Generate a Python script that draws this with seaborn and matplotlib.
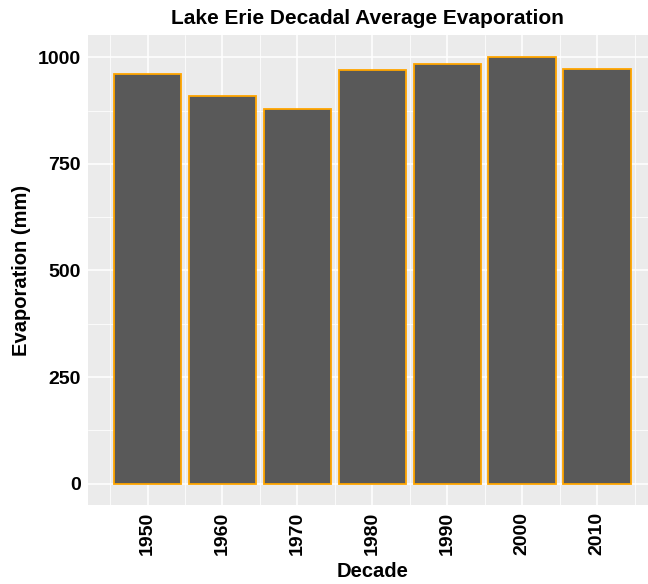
import matplotlib
matplotlib.use("Agg")
import matplotlib.pyplot as plt
import seaborn as sns
import pandas as pd
from matplotlib.ticker import FixedLocator

decades = ["1950", "1960", "1970", "1980", "1990", "2000", "2010"]
evaporation = [961, 910, 878, 970, 984, 1000, 973]
y_ticks = [0, 250, 500, 750, 1000]

df = pd.DataFrame({"Decade": decades, "Evaporation": evaporation})

sns.set_theme(style="darkgrid")
plt.rcParams["font.family"] = ["Liberation Sans", "DejaVu Sans"]

fig = plt.figure(figsize=(6.48, 5.84), dpi=100)
ax = fig.add_axes([88 / 648, 79 / 584, 568.6 / 648, 470 / 584])
ax.set_facecolor("#EBEBEB")

sns.barplot(data=df, x="Decade", y="Evaporation", ax=ax, color="#595959",
            saturation=1, width=0.9, edgecolor="#FFA500", linewidth=1.3,
            errorbar=None, zorder=3)

ax.set_xlim(-0.795, 6.795)
ax.set_ylim(-50.1, 1052.1)
ax.yaxis.set_major_locator(FixedLocator(y_ticks))
ax.yaxis.set_minor_locator(FixedLocator([125, 375, 625, 875]))
ax.xaxis.set_minor_locator(FixedLocator([i - 0.5 for i in range(8)]))

ax.grid(which="major", color="white", linewidth=1.1, zorder=0)
ax.grid(which="minor", color="white", linewidth=0.55, zorder=0)
ax.set_axisbelow(True)
for s in ax.spines.values():
    s.set_visible(False)

ax.tick_params(axis="both", which="major", length=3, width=0.8, color="#333333",
               labelsize=14, labelcolor="black", pad=2)
ax.tick_params(axis="both", which="minor", length=0)
ax.set_yticklabels([str(t) for t in y_ticks], fontweight="bold")
ax.set_xticks(range(len(decades)))
ax.set_xticklabels(decades, rotation=90, fontweight="bold")

ax.set_xlabel("Decade", fontsize=14.5, fontweight="bold", labelpad=5, color="black")
ax.set_ylabel("Evaporation (mm)", fontsize=14.5, fontweight="bold", labelpad=5,
              color="black")
fig.text(367 / 648, 1 - 18 / 584, "Lake Erie Decadal Average Evaporation",
         ha="center", va="center", fontsize=15, fontweight="bold", color="black")

fig.savefig("out.png", dpi=100)
